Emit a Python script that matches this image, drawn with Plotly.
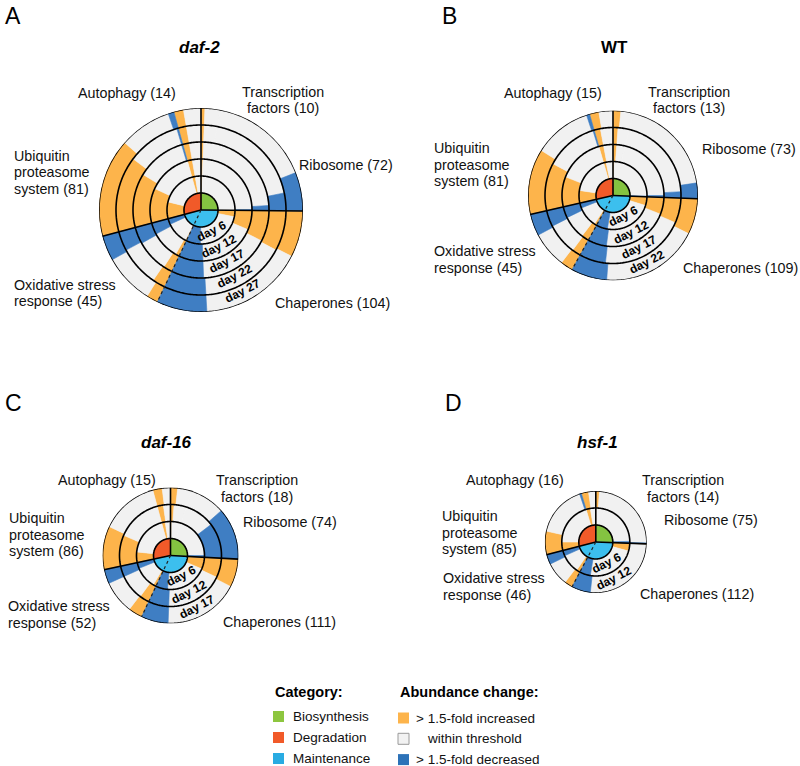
import math
import plotly.graph_objects as go

W, H = 800, 766
FONT = "Liberation Sans, Arial, sans-serif"

# ---------------- data ----------------
subcats = ["Transcription factors", "Ribosome", "Chaperones",
           "Oxidative stress response", "Ubiquitin proteasome system", "Autophagy"]
subcat_category = ["Biosynthesis", "Biosynthesis", "Maintenance",
                   "Maintenance", "Degradation", "Degradation"]
categories = ["Biosynthesis", "Maintenance", "Degradation"]   # clockwise from north
legend_categories = ["Biosynthesis", "Degradation", "Maintenance"]
change_labels = ["> 1.5-fold increased", "within threshold", "> 1.5-fold decreased"]

genotypes = ["daf-2", "WT", "daf-16", "hsf-1"]
panel_letters = ["A", "B", "C", "D"]

days_daf2 = ["day 6", "day 12", "day 17", "day 22", "day 27"]
days_wt = ["day 6", "day 12", "day 17", "day 22"]
days_daf16 = ["day 6", "day 12", "day 17"]
days_hsf1 = ["day 6", "day 12"]

# proteins per subcategory (TF, Ribosome, Chaperones, Oxidative, UPS, Autophagy)
counts_daf2 = [10, 72, 104, 45, 81, 14]
counts_wt = [13, 73, 109, 45, 81, 15]
counts_daf16 = [18, 74, 111, 52, 86, 15]
counts_hsf1 = [14, 75, 112, 46, 85, 16]

# proteins > 1.5-fold increased / decreased (rows: days, cols: subcategories)
inc_daf2 = [[2, 0, 10, 2, 26, 5],
            [2, 0, 20, 4, 36, 5],
            [2, 0, 24, 7, 42, 5],
            [2, 0, 25, 8, 47, 5],
            [2, 0, 24, 6, 51, 5]]
dec_daf2 = [[0, 0, 22, 9, 0, 0],
            [0, 1, 25, 12, 0, 0],
            [0, 4, 25, 13, 1, 0],
            [0, 11, 26, 12, 1, 0],
            [0, 20, 26, 13, 3, 0]]

inc_wt = [[2, 0, 14, 4, 20, 4],
          [4, 0, 18, 8, 32, 5],
          [4, 0, 20, 7, 38, 5],
          [5, 0, 23, 8, 42, 6]]
dec_wt = [[0, 1, 18, 8, 0, 0],
          [0, 2, 20, 12, 0, 0],
          [0, 5, 21, 13, 1, 0],
          [0, 10, 23, 14, 2, 0]]

inc_daf16 = [[2, 0, 20, 5, 18, 6],
             [4, 0, 22, 11, 35, 7],
             [6, 0, 24, 12, 37, 8]]
dec_daf16 = [[0, 3, 20, 10, 0, 0],
             [0, 40, 23, 12, 0, 0],
             [0, 44, 23, 12, 0, 0]]

inc_hsf1 = [[1, 0, 13, 6, 14, 7],
            [4, 0, 1, 9, 26, 8]]
dec_hsf1 = [[0, 3, 18, 9, 0, 0],
            [0, 1, 21, 11, 2, 0]]

# ---------------- styles / layout ----------------
cat_colors = {"Biosynthesis": "#84C341", "Degradation": "#F15A29", "Maintenance": "#3CBFEE"}
change_colors = ["#FDB44B", "#F1F1F1", "#3F7EC3"]
legend_change_colors = ["#FDB44B", "#F2F2F2", "#2C72B8"]
legend_cat_colors = {"Biosynthesis": "#8DC63F", "Degradation": "#F15A29", "Maintenance": "#29ABE2"}

UNIT = 17  # px per ring
panels = [
    dict(days=days_daf2, counts=counts_daf2, inc=inc_daf2, dec=dec_daf2, cx=201, cy=210,
         title_xy=(199, 48), letter_xy=(3, 16),
         labels=[(283, 92, "center"), (346, 165, "center"), (332, 303, "center"),
                 (12, 285, "left"), (12, 156, "left"), (127, 93, "center")]),
    dict(days=days_wt, counts=counts_wt, inc=inc_wt, dec=dec_wt, cx=613, cy=195.5,
         title_xy=(614, 48), letter_xy=(440, 16),
         labels=[(689, 92, "center"), (749, 149, "center"), (740, 268, "center"),
                 (432, 251, "left"), (432, 148, "left"), (553, 93, "center")]),
    dict(days=days_daf16, counts=counts_daf16, inc=inc_daf16, dec=dec_daf16, cx=170.5, cy=555.5,
         title_xy=(166, 443), letter_xy=(3, 403),
         labels=[(257, 480, "center"), (290, 522, "center"), (279, 622, "center"),
                 (6, 606, "left"), (7, 518, "left"), (107, 480, "center")]),
    dict(days=days_hsf1, counts=counts_hsf1, inc=inc_hsf1, dec=dec_hsf1, cx=595.8, cy=542,
         title_xy=(597, 443), letter_xy=(443, 403),
         labels=[(683, 480, "center"), (711, 520, "center"), (697, 594, "center"),
                 (441, 578, "left"), (440, 516, "left"), (515, 480, "center")]),
]


def px(x):
    return x / W


def py(y):
    return 1 - y / H


def label_lines(name, n):
    if name == "Transcription factors":
        return ["Transcription", f"factors ({n})"]
    if name == "Ubiquitin proteasome system":
        return ["Ubiquitin", "proteasome", f"system ({n})"]
    if name == "Oxidative stress response":
        return ["Oxidative stress", f"response ({n})"]
    return [f"{name} ({n})"]


fig = go.Figure()
annotations = []
layout_polars = {}

for pi, (g, p) in enumerate(zip(genotypes, panels)):
    sid = "polar" if pi == 0 else f"polar{pi + 1}"
    counts = p["counts"]
    total = sum(counts)
    dpp = 360.0 / total
    nd = len(p["days"])
    R = UNIT * (nd + 1)
    cx, cy = p["cx"], p["cy"]

    # subcategory start angles
    starts = []
    acc = 0.0
    for c in counts:
        starts.append(acc)
        acc += c * dpp

    # ring segments
    seg = {k: dict(r=[], theta=[], width=[], base=[]) for k in range(3)}
    for d in range(nd):
        for j, c in enumerate(counts):
            vals = [p["inc"][d][j], c - p["inc"][d][j] - p["dec"][d][j], p["dec"][d][j]]
            a = starts[j]
            for k, v in enumerate(vals):
                if v > 0:
                    w = v * dpp
                    seg[k]["r"].append(1)
                    seg[k]["base"].append(d + 1)
                    seg[k]["theta"].append(a + w / 2)
                    seg[k]["width"].append(w)
                    a += w
    for k in range(3):
        fig.add_trace(go.Barpolar(
            r=seg[k]["r"], base=seg[k]["base"], theta=seg[k]["theta"], width=seg[k]["width"],
            marker=dict(color=change_colors[k], line=dict(color=change_colors[k], width=0.6)),
            name=change_labels[k], showlegend=False, hoverinfo="skip", subplot=sid))

    # central pie of categories
    cat_sizes = [sum(c for c, cc in zip(counts, subcat_category) if cc == cat) for cat in categories]
    a = 0.0
    for cat, s in zip(categories, cat_sizes):
        w = s * dpp
        fig.add_trace(go.Barpolar(
            r=[1], base=[0], theta=[a + w / 2], width=[w],
            marker=dict(color=cat_colors[cat], line=dict(color=cat_colors[cat], width=0.6)),
            name=cat, showlegend=False, hoverinfo="skip", subplot=sid))
        a += w

    # ring outlines
    circ_theta = list(range(0, 361))
    for k in range(1, nd + 2):
        fig.add_trace(go.Scatterpolar(
            r=[k] * len(circ_theta), theta=circ_theta, mode="lines",
            line=dict(color="black", width=1.6), showlegend=False, hoverinfo="skip",
            cliponaxis=False, subplot=sid))
    # category boundaries (solid) and Chaperones/Oxidative boundary (dotted)
    cat_bounds = [0.0]
    acc = 0.0
    for s in cat_sizes[:-1]:
        acc += s * dpp
        cat_bounds.append(acc)
    for b in cat_bounds:
        fig.add_trace(go.Scatterpolar(
            r=[0, nd + 1], theta=[b, b], mode="lines",
            line=dict(color="black", width=1.6), showlegend=False, hoverinfo="skip",
            cliponaxis=False, subplot=sid))
    chap_end = starts[3]
    fig.add_trace(go.Scatterpolar(
        r=[0, nd + 1], theta=[chap_end, chap_end], mode="lines",
        line=dict(color="#222222", width=1.2, dash="dot"), showlegend=False, hoverinfo="skip",
        cliponaxis=False, subplot=sid))

    layout_polars[sid] = dict(
        domain=dict(x=[px(cx - R), px(cx + R)], y=[py(cy + R), py(cy - R)]),
        bgcolor="rgba(0,0,0,0)",
        radialaxis=dict(range=[0, nd + 1], showgrid=False, showline=False, showticklabels=False,
                        ticks=""),
        angularaxis=dict(rotation=90, direction="clockwise", thetaunit="degrees",
                         showgrid=False, showline=False, showticklabels=False, ticks=""),
    )

    # day labels along the rings
    th = math.radians(153)
    for d, day in enumerate(p["days"]):
        rr = (d + 1.5 - 0.12) * UNIT
        x = cx + rr * math.sin(th)
        y = cy - rr * math.cos(th)
        annotations.append(dict(x=px(x), y=py(y), xref="paper", yref="paper", text=f"<b>{day}</b>",
                                showarrow=False, textangle=-27, xanchor="center", yanchor="middle",
                                font=dict(family=FONT, size=12, color="black")))

    # subcategory labels
    for (lx, ly, anc), name, n in zip(p["labels"], subcats, counts):
        for li, line in enumerate(label_lines(name, n)):
            annotations.append(dict(x=px(lx), y=py(ly + li * 16.5), xref="paper", yref="paper",
                                    text=line, showarrow=False, xanchor=anc, yanchor="middle",
                                    font=dict(family=FONT, size=14.3, color="#111111")))

    # titles and panel letters
    tx, ty = p["title_xy"]
    ttl = f"<b><i>{g}</i></b>" if g != "WT" else f"<b>{g}</b>"
    annotations.append(dict(x=px(tx), y=py(ty), xref="paper", yref="paper", text=ttl,
                            showarrow=False, xanchor="center", yanchor="middle",
                            font=dict(family=FONT, size=17, color="black")))
    lx, ly = p["letter_xy"]
    annotations.append(dict(x=px(lx), y=py(ly), xref="paper", yref="paper", text=panel_letters[pi],
                            showarrow=False, xanchor="left", yanchor="middle",
                            font=dict(family=FONT, size=23, color="black")))

# ---------------- legend (drawn) ----------------
shapes = []
annotations.append(dict(x=px(273), y=py(692), xref="paper", yref="paper", text="<b>Category:</b>",
                        showarrow=False, xanchor="left", yanchor="middle",
                        font=dict(family=FONT, size=14.5, color="black")))
for i, cat in enumerate(legend_categories):
    yc = 716.5 + i * 21
    shapes.append(dict(type="rect", xref="paper", yref="paper",
                       x0=px(273), x1=px(284), y0=py(yc + 5.5), y1=py(yc - 5.5),
                       fillcolor=legend_cat_colors[cat], line=dict(width=0)))
    annotations.append(dict(x=px(291), y=py(yc), xref="paper", yref="paper", text=cat,
                            showarrow=False, xanchor="left", yanchor="middle",
                            font=dict(family=FONT, size=13.5, color="#111111")))

annotations.append(dict(x=px(398), y=py(692), xref="paper", yref="paper",
                        text="<b>Abundance change:</b>",
                        showarrow=False, xanchor="left", yanchor="middle",
                        font=dict(family=FONT, size=14.5, color="black")))
for i, lab in enumerate(change_labels):
    yc = 718 + i * 20.8
    shapes.append(dict(type="rect", xref="paper", yref="paper",
                       x0=px(398), x1=px(409), y0=py(yc + 5.5), y1=py(yc - 5.5),
                       fillcolor=legend_change_colors[i],
                       line=dict(width=1 if i == 1 else 0, color="#9A9A9A")))
    annotations.append(dict(x=px(425 if i == 1 else 414), y=py(yc), xref="paper", yref="paper",
                            text=lab, showarrow=False, xanchor="left", yanchor="middle",
                            font=dict(family=FONT, size=13.5, color="#111111")))

fig.update_layout(
    width=W, height=H, autosize=False,
    margin=dict(l=0, r=0, t=0, b=0),
    paper_bgcolor="white", plot_bgcolor="white",
    showlegend=False,
    annotations=annotations, shapes=shapes,
    **layout_polars,
)

fig.write_html("out.html", config={"displayModeBar": False},
               post_script="document.body.style.margin='0';document.body.style.overflow='hidden';")
